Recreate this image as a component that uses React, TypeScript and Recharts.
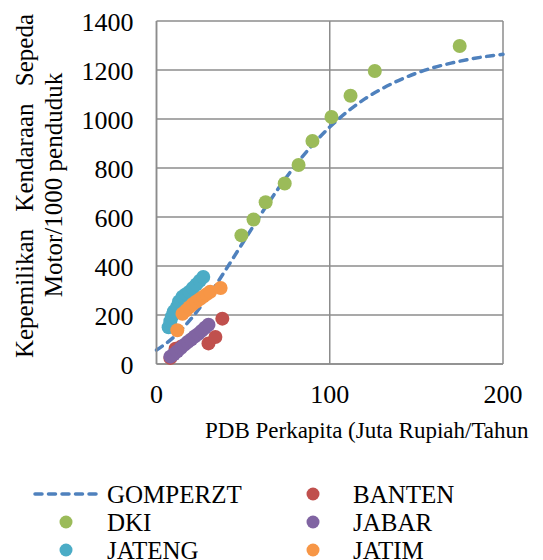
import React from "react";
import { CartesianGrid, ComposedChart, Line, Scatter, XAxis, YAxis } from "recharts";

// PDB per kapita (juta Rp/tahun) vs kepemilikan sepeda motor per 1000 penduduk
const gompX = [0, 10, 20, 30, 40, 50, 60, 70, 80, 90, 100, 110, 120, 130, 140, 150, 160, 170, 180, 190, 200];
const gompY = [57, 110, 185, 278, 385, 497, 608, 713, 809, 894, 967, 1029, 1081, 1123, 1158, 1187, 1210, 1228, 1243, 1255, 1264];

const bantenX = [8, 11, 14, 30, 34, 38];
const bantenY = [25, 62, 70, 84, 110, 185];

const dkiX = [49, 56, 63, 74, 82, 90, 101, 112, 126, 175];
const dkiY = [525, 590, 660, 737, 812, 910, 1008, 1095, 1196, 1298];

const jabarX = [8, 10, 12, 14, 16, 18, 20, 22, 24, 26, 28, 30];
const jabarY = [30, 40, 52, 65, 78, 90, 100, 112, 122, 135, 148, 160];

const jatengX = [7, 8, 9, 10, 12, 13, 15, 17, 19, 21, 23, 25, 27];
const jatengY = [150, 175, 195, 215, 235, 255, 275, 285, 295, 310, 325, 340, 355];

const jatimX = [12, 15, 17, 19, 21, 23, 25, 27, 29, 31, 37];
const jatimY = [138, 205, 218, 232, 245, 255, 265, 275, 285, 295, 310];

const xTicks = [0, 100, 200];
const yTicks = [0, 200, 400, 600, 800, 1000, 1200, 1400];

const pairs = (xs: number[], ys: number[]) => xs.map((x, i) => ({ x, y: ys[i] }));

const FONT = "Liberation Serif, Times New Roman, serif";
const GRID = "#8c8c8c";

const series = [
  { name: "BANTEN", color: "#C0504D", data: pairs(bantenX, bantenY) },
  { name: "DKI", color: "#9BBB59", data: pairs(dkiX, dkiY) },
  { name: "JABAR", color: "#8064A2", data: pairs(jabarX, jabarY) },
  { name: "JATENG", color: "#4BACC6", data: pairs(jatengX, jatengY) },
  { name: "JATIM", color: "#F79646", data: pairs(jatimX, jatimY) },
];

const dot = (color: string) => (props: any) => <circle cx={props.cx} cy={props.cy} r={7} fill={color} />;

const XTick = (props: any) => (
  <text x={props.x} y={props.y} dy={19} textAnchor="middle" style={{ fontFamily: FONT, fontSize: 26 }} fill="#000">
    {props.payload.value}
  </text>
);

const YTick = (props: any) => (
  <text x={props.x} y={props.y} dy={10} textAnchor="end" style={{ fontFamily: FONT, fontSize: 26 }} fill="#000">
    {props.payload.value}
  </text>
);

function YTitle() {
  return (
    <g style={{ fontFamily: FONT, fontSize: 25 }} fill="#000">
      <text x={33} y={186} transform="rotate(-90 33 186)" textAnchor="middle" style={{ wordSpacing: 11 }}>
        Kepemilikan Kendaraan Sepeda
      </text>
      <text x={62} y={185} transform="rotate(-90 62 185)" textAnchor="middle">
        Motor/1000 penduduk
      </text>
    </g>
  );
}

function XTitle() {
  return (
    <text x={205} y={438} style={{ fontFamily: FONT, fontSize: 23 }} fill="#000">
      PDB Perkapita (Juta Rupiah/Tahun
    </text>
  );
}

const legendItems = [
  { name: "GOMPERZT", color: "#4F81BD", line: true, col: 0, row: 0 },
  { name: "BANTEN", color: "#C0504D", col: 1, row: 0 },
  { name: "DKI", color: "#9BBB59", col: 0, row: 1 },
  { name: "JABAR", color: "#8064A2", col: 1, row: 1 },
  { name: "JATENG", color: "#4BACC6", col: 0, row: 2 },
  { name: "JATIM", color: "#F79646", col: 1, row: 2 },
];

function ChartLegend() {
  const rowY = [494, 522, 550];
  return (
    <svg width={543} height={560} style={{ position: "absolute", left: 0, top: 0, pointerEvents: "none" }}>
      {legendItems.map((it) => {
        const cy = rowY[it.row];
        const mx = it.col === 0 ? 66 : 313;
        const tx = it.col === 0 ? 107 : 353;
        return (
          <g key={it.name}>
            {it.line ? (
              <line x1={35} x2={99} y1={cy} y2={cy} stroke={it.color} strokeWidth={3.5} strokeDasharray="7 6.5" strokeLinecap="round" />
            ) : (
              <circle cx={mx} cy={cy} r={6.5} fill={it.color} />
            )}
            <text x={tx} y={cy + 9} style={{ fontFamily: FONT, fontSize: 25 }} fill="#000">
              {it.name}
            </text>
          </g>
        );
      })}
    </svg>
  );
}

export default function App() {
  return (
    <div style={{ position: "absolute", left: 0, top: 0, width: 543, height: 560, background: "#fff", fontFamily: FONT }}>
      <ComposedChart width={543} height={560} margin={{ top: 21, right: 40, bottom: 166, left: 0 }}>
        <CartesianGrid stroke={GRID} strokeWidth={1.5} />
        <XAxis
          type="number"
          dataKey="x"
          domain={[0, 200]}
          ticks={xTicks}
          height={30}
          tick={<XTick />}
          tickLine={false}
          tickSize={0}
          tickMargin={20}
          axisLine={{ stroke: GRID, strokeWidth: 1.5 }}
          label={<XTitle />}
        />
        <YAxis
          type="number"
          dataKey="y"
          domain={[0, 1400]}
          ticks={yTicks}
          width={156.5}
          tick={<YTick />}
          tickLine={false}
          tickSize={0}
          tickMargin={23}
          axisLine={{ stroke: GRID, strokeWidth: 1.5 }}
          label={<YTitle />}
        />
        <Line
          data={pairs(gompX, gompY)}
          dataKey="y"
          type="monotone"
          stroke="#4F81BD"
          strokeWidth={3.5}
          strokeDasharray="7 6.5"
          strokeLinecap="round"
          dot={false}
          activeDot={false}
          isAnimationActive={false}
        />
        {series.map((s) => (
          <Scatter key={s.name} name={s.name} data={s.data} dataKey="y" shape={dot(s.color)} isAnimationActive={false} />
        ))}
      </ComposedChart>
      <ChartLegend />
    </div>
  );
}
